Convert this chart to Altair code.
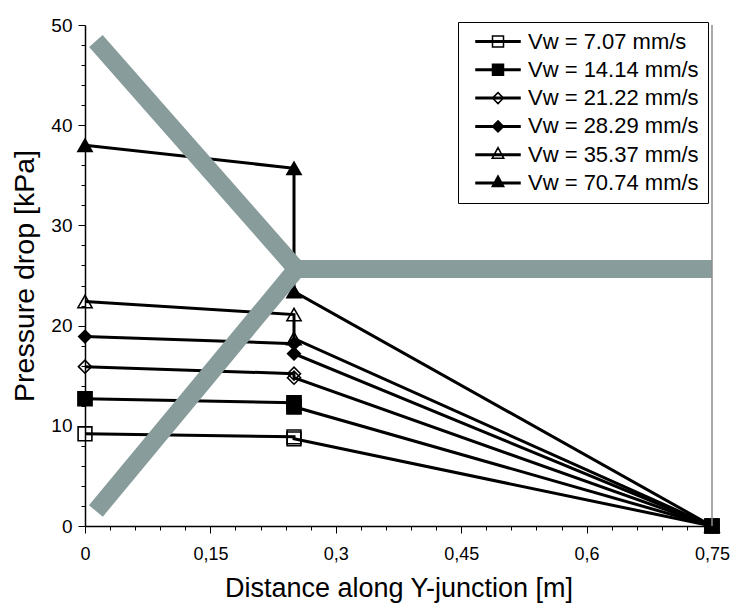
import altair as alt
import pandas as pd

# ---------------- data ----------------
series = ["Vw = 7.07 mm/s", "Vw = 14.14 mm/s", "Vw = 21.22 mm/s",
          "Vw = 28.29 mm/s", "Vw = 35.37 mm/s", "Vw = 70.74 mm/s"]
distance = [0.0, 0.25, 0.25, 0.75]
dp_707 = [9.2, 8.9, 8.7, 0.0]
dp_1414 = [12.7, 12.3, 11.9, 0.0]
dp_2122 = [15.9, 15.2, 14.8, 0.0]
dp_2829 = [18.9, 18.2, 17.2, 0.0]
dp_3537 = [22.4, 21.1, 18.7, 0.0]
dp_7074 = [38.0, 35.7, 23.4, 0.0]
pressure = [dp_707, dp_1414, dp_2122, dp_2829, dp_3537, dp_7074]

marker_shapes = ["square", "square", "diamond", "diamond", "triangle-up", "triangle-up"]
marker_fills = ["transparent", "black", "transparent", "black", "transparent", "black"]
marker_strokes = ["black", "black", "black", "black", "black", "black"]
marker_sizes = [190, 200, 170, 160, 200, 200]
legend_line = "M-4,-0.14H4V0.14H-4Z"
legend_paths = [
    legend_line + "M-1,-1H1V1H-1Z",
    legend_line + "M-1,-1H1V1H-1Z",
    legend_line + "M0,-1L1,0L0,1L-1,0Z",
    legend_line + "M0,-1L1,0L0,1L-1,0Z",
    legend_line + "M0,-1.3L1.05,0.65L-1.05,0.65Z",
    legend_line + "M0,-1.3L1.05,0.65L-1.05,0.65Z",
]

# grey Y-junction sketch
band_upper_x = [0.013, 0.253, 0.75]
band_upper_y = [48.4, 25.65, 25.65]
band_lower_x = [0.013, 0.253]
band_lower_y = [1.5, 25.65]

x_ticks = [0, 0.03, 0.06, 0.09, 0.12, 0.15, 0.18, 0.21, 0.24, 0.27, 0.3, 0.33, 0.36,
           0.39, 0.42, 0.45, 0.48, 0.51, 0.54, 0.57, 0.6, 0.63, 0.66, 0.69, 0.72, 0.75]
y_ticks = [0, 2, 4, 6, 8, 10, 12, 14, 16, 18, 20, 22, 24, 26, 28, 30, 32, 34, 36, 38,
           40, 42, 44, 46, 48, 50]

# ---------------- tables ----------------
rows = []
for s, ys, sz in zip(series, pressure, marker_sizes):
    for i, (xv, yv) in enumerate(zip(distance, ys)):
        top = 1 if (s == series[1] and i == len(ys) - 1) else 0
        rows.append({"series": s, "x": xv, "y": yv, "idx": i, "msize": sz, "top": top})
df = pd.DataFrame(rows)

band_rows = []
for i, (xv, yv) in enumerate(zip(band_upper_x, band_upper_y)):
    band_rows.append({"seg": "upper", "x": xv, "y": yv, "idx": i})
for i, (xv, yv) in enumerate(zip(band_lower_x, band_lower_y)):
    band_rows.append({"seg": "lower", "x": xv, "y": yv, "idx": i})
band_df = pd.DataFrame(band_rows)

W, H = 627, 501
FONT = "Liberation Sans"

xscale = alt.Scale(domain=[0, 0.75], nice=False, zero=False)
yscale = alt.Scale(domain=[0, 50], nice=False)

x_major = "round(datum.value*100) % 15 == 0"
y_major = "round(datum.value) % 10 == 0"

xaxis = alt.Axis(
    values=x_ticks, title="Distance along Y-junction [m]", grid=False,
    labelExpr=f"{x_major} ? replace(format(datum.value, '~g'), '.', ',') : ''",
    tickSize={"condition": {"test": x_major, "value": 7}, "value": 4},
    labelFlush=False, labelOverlap=False, labelPadding=12, titlePadding=12,
    labelFontSize=18,
)
yaxis = alt.Axis(
    values=y_ticks, title="Pressure drop [kPa]", grid=False,
    labelExpr=f"{y_major} ? datum.label : ''",
    tickSize={"condition": {"test": y_major, "value": 7}, "value": 4},
    labelFlush=False, labelOverlap=False, labelPadding=6, titlePadding=11,
    labelFontSize=19, titleFontSize=28.5,
)

X = alt.X("x:Q", scale=xscale, axis=xaxis)
Y = alt.Y("y:Q", scale=yscale, axis=yaxis)

lines = alt.Chart(df).mark_line(color="black", strokeWidth=3).encode(
    x=X, y=Y, detail="series:N", order=alt.Order("idx:Q")
)

points = alt.Chart(df).mark_point(stroke="black", strokeWidth=1.6, opacity=1).encode(
    x=X, y=Y,
    shape=alt.Shape("series:N", scale=alt.Scale(domain=series, range=marker_shapes), legend=None),
    fill=alt.Fill("series:N", scale=alt.Scale(domain=series, range=marker_fills), legend=None),
    size=alt.Size("msize:Q", scale=None),
    order=alt.Order("top:Q"),
)

band = alt.Chart(band_df).mark_line(
    color="#889c9b", strokeWidth=18, strokeCap="butt", strokeJoin="miter"
).encode(x=X, y=Y, detail="seg:N", order=alt.Order("idx:Q"))

legend_kw = dict(
    orient="none", legendX=373, legendY=-3, title=None,
    labelFont=FONT, labelFontSize=22, labelColor="black", labelLimit=400,
    symbolSize=121, symbolStrokeWidth=1.5, symbolStrokeColor="black",
    symbolOffset=20, labelOffset=19, clipHeight=21, rowPadding=5.3,
    padding=9, strokeColor="black", fillColor="white",
)

legend_layer = alt.Chart(df).transform_filter("false").mark_point(
    strokeWidth=1.5, opacity=1
).encode(
    x=X, y=Y,
    shape=alt.Shape("series:N", scale=alt.Scale(domain=series, range=legend_paths),
                    legend=alt.Legend(**legend_kw)),
    fill=alt.Fill("series:N", scale=alt.Scale(domain=series, range=marker_fills),
                  legend=alt.Legend(**legend_kw)),
    stroke=alt.Stroke("series:N", scale=alt.Scale(domain=series, range=marker_strokes),
                      legend=alt.Legend(**legend_kw)),
)

border = alt.Chart(pd.DataFrame({"a": [0]})).mark_rule(color="#8c8c8c", strokeWidth=1.5).encode(
    x=alt.value(W), y=alt.value(0), y2=alt.value(H)
)

chart = alt.layer(lines, points, band, legend_layer, border).resolve_scale(
    shape="independent", fill="independent", stroke="independent"
).properties(
    width=W, height=H,
    autosize=alt.AutoSizeParams(type="none"),
    padding={"left": 85, "top": 25, "right": 22, "bottom": 83},
).configure_view(stroke=None).configure_axis(
    domainColor="black", domainWidth=1.5, tickColor="black", tickWidth=1,
    labelColor="black", titleColor="black", labelFont=FONT, titleFont=FONT,
    titleFontSize=27, titleFontWeight="normal",
)

chart.save("out.html", embed_options={"renderer": "svg", "actions": False})
